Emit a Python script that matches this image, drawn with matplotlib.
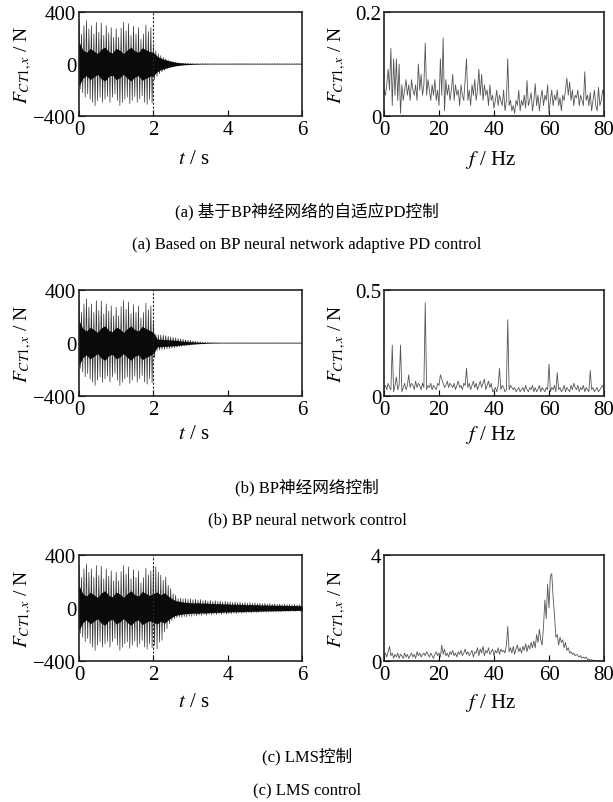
import numpy as np
import matplotlib
matplotlib.use('Agg')
import matplotlib.pyplot as plt

plt.rcParams['font.family'] = ['Liberation Serif', 'Noto Sans CJK SC']
plt.rcParams['mathtext.fontset'] = 'stix'

# ---- time domain: spike peaks at 15 per second, troughs in between ----
fs_spike = 15
# 0 - 2 s, uncontrolled part, same in all three cases
pre_up = [320, 230, 295, 333, 270, 295, 230, 320, 245, 315, 220, 295, 240, 280, 205,
          270, 205, 275, 320, 255, 310, 220, 290, 230, 280, 190, 230, 300, 250, 280]
pre_dn = [-190, -220, -255, -230, -270, -295, -320, -280, -255, -295, -270, -250, -295, -255, -230,
          -280, -320, -295, -270, -255, -305, -280, -250, -295, -270, -245, -295, -310, -270, -300]

# 2 - 6 s, after control is switched on
post_up_a = [140, 100, 78, 64, 51, 40, 30, 22, 16, 12, 8, 6, 5, 4, 3,
             3, 3, 2, 2, 2, 2, 2, 2, 2, 2, 2, 2, 2, 2, 2,
             2, 2, 2, 2, 2, 2, 2, 2, 2, 2, 2, 2, 2, 2, 2,
             2, 2, 2, 2, 2, 2, 2, 2, 2, 2, 2, 2, 2, 2, 2]
post_dn_a = [-120, -95, -75, -60, -48, -37, -28, -20, -15, -11, -8, -6, -5, -4, -3,
             -3, -3, -2, -2, -2, -2, -2, -2, -2, -2, -2, -2, -2, -2, -2,
             -2, -2, -2, -2, -2, -2, -2, -2, -2, -2, -2, -2, -2, -2, -2,
             -2, -2, -2, -2, -2, -2, -2, -2, -2, -2, -2, -2, -2, -2, -2]

post_up_b = [170, 65, 62, 60, 58, 55, 50, 46, 42, 38, 34, 30, 27, 24, 21,
             18, 15, 12, 10, 8, 6, 5, 4, 3, 3, 2, 2, 2, 1, 1,
             1, 1, 1, 1, 1, 1, 1, 1, 1, 1, 1, 1, 1, 1, 1,
             1, 1, 1, 1, 1, 1, 1, 1, 1, 1, 1, 1, 1, 1, 1]
post_dn_b = [-110, -55, -52, -50, -48, -45, -42, -38, -35, -32, -28, -25, -22, -20, -18,
             -15, -12, -10, -8, -6, -5, -4, -3, -3, -2, -2, -2, -1, -1, -1,
             -1, -1, -1, -1, -1, -1, -1, -1, -1, -1, -1, -1, -1, -1, -1,
             -1, -1, -1, -1, -1, -1, -1, -1, -1, -1, -1, -1, -1, -1, -1]

post_up_c = [300, 310, 272, 247, 209, 234, 171, 146, 108, 96, 70, 75, 68, 72, 65,
             70, 62, 66, 58, 64, 55, 60, 52, 57, 50, 55, 48, 52, 46, 50,
             45, 48, 42, 46, 40, 44, 38, 42, 36, 40, 35, 38, 33, 36, 32,
             34, 30, 33, 28, 32, 27, 30, 26, 29, 25, 28, 24, 27, 23, 25]
post_dn_c = [-282, -307, -257, -244, -181, -156, -118, -93, -80, -72, -68, -70, -64, -66, -60,
             -62, -56, -60, -53, -57, -50, -54, -48, -52, -46, -50, -44, -48, -42, -46,
             -42, -44, -40, -42, -38, -40, -36, -38, -34, -36, -33, -35, -31, -33, -30,
             -31, -29, -30, -27, -29, -26, -28, -25, -27, -24, -26, -23, -25, -22, -24]

# dense black core of the signal, every 0.1 s
core_pre = [170, 110, 90, 120, 100, 80, 115, 130, 95, 85,
            120, 105, 80, 110, 130, 100, 90, 125, 110, 95]
core_post_a = [90, 60, 45, 35, 26, 20, 14, 10, 7, 5,
               3.5, 2.5, 2, 1.5, 1.5, 1.2, 1.2, 1.2, 1.2, 1.2,
               1.2, 1.2, 1.2, 1.2, 1.2, 1.2, 1.2, 1.2, 1.2, 1.2,
               1.2, 1.2, 1.2, 1.2, 1.2, 1.2, 1.2, 1.2, 1.2, 1.2, 1.2]
core_post_b = [80, 30, 28, 26, 24, 22, 20, 17, 14, 11,
               9, 7, 5, 4, 3, 2, 1.5, 1.2, 1, 1,
               1, 1, 1, 1, 1, 1, 1, 1, 1, 1,
               1, 1, 1, 1, 1, 1, 1, 1, 1, 1, 1]
core_post_c = [110, 120, 100, 115, 90, 70, 55, 50, 45, 42,
               40, 38, 40, 36, 38, 34, 35, 32, 33, 30,
               31, 28, 29, 27, 28, 25, 26, 24, 25, 22,
               23, 21, 22, 20, 21, 19, 20, 18, 19, 17, 18]

# ---- spectra, 0 - 80 Hz every 0.5 Hz ----
spec_a = [0.05, 0.04, 0.06, 0.09, 0.05, 0.13, 0.02, 0.11, 0.04, 0.11,
          0.03, 0.10, 0.005, 0.06, 0.03, 0.05, 0.07, 0.04, 0.06, 0.03,
          0.07, 0.05, 0.04, 0.06, 0.03, 0.10, 0.05, 0.08, 0.04, 0.06,
          0.14, 0.04, 0.07, 0.05, 0.03, 0.06, 0.04, 0.07, 0.03, 0.05,
          0.02, 0.11, 0.04, 0.15, 0.01, 0.07, 0.04, 0.06, 0.03, 0.05,
          0.08, 0.03, 0.06, 0.04, 0.05, 0.02, 0.06, 0.04, 0.03, 0.07,
          0.11, 0.03, 0.05, 0.02, 0.06, 0.04, 0.07, 0.03, 0.05, 0.09,
          0.04, 0.08, 0.03, 0.06, 0.04, 0.05, 0.02, 0.06, 0.03, 0.04,
          0.015, 0.03, 0.05, 0.02, 0.04, 0.03, 0.02, 0.05, 0.01, 0.03,
          0.11, 0.02, 0.03, 0.01, 0.02, 0.005, 0.03, 0.02, 0.05, 0.01,
          0.03, 0.02, 0.04, 0.015, 0.068, 0.02, 0.03, 0.045, 0.01, 0.03,
          0.062, 0.02, 0.04, 0.01, 0.035, 0.05, 0.02, 0.04, 0.03, 0.06,
          0.005, 0.03, 0.05, 0.02, 0.04, 0.03, 0.05, 0.02, 0.035, 0.01,
          0.04, 0.03, 0.05, 0.073, 0.04, 0.065, 0.03, 0.05, 0.02, 0.04,
          0.035, 0.05, 0.02, 0.04, 0.03, 0.02, 0.085, 0.03, 0.04, 0.02,
          0.045, 0.01, 0.03, 0.05, 0.02, 0.01, 0.055, 0.02, 0.03, 0.05,
          0.04]
spec_b = [0.04, 0.05, 0.03, 0.06, 0.04, 0.03, 0.24, 0.02, 0.05, 0.09,
          0.03, 0.05, 0.24, 0.02, 0.04, 0.06, 0.03, 0.05, 0.10, 0.04,
          0.06, 0.05, 0.03, 0.07, 0.04, 0.06, 0.05, 0.03, 0.06, 0.04,
          0.44, 0.03, 0.05, 0.04, 0.06, 0.03, 0.05, 0.04, 0.03, 0.06,
          0.05, 0.10, 0.08, 0.06, 0.04, 0.05, 0.07, 0.04, 0.06, 0.05,
          0.04, 0.06, 0.03, 0.05, 0.07, 0.04, 0.05, 0.03, 0.06, 0.05,
          0.13, 0.04, 0.06, 0.03, 0.05, 0.07, 0.04, 0.06, 0.03, 0.05,
          0.07, 0.04, 0.06, 0.08, 0.03, 0.05, 0.07, 0.04, 0.06, 0.02,
          0.03, 0.04, 0.02, 0.05, 0.13, 0.03, 0.05, 0.04, 0.02, 0.03,
          0.36, 0.03, 0.05, 0.04, 0.03, 0.04, 0.02, 0.03, 0.04, 0.02,
          0.03, 0.04, 0.02, 0.05, 0.03, 0.02, 0.04, 0.03, 0.05, 0.02,
          0.04, 0.02, 0.03, 0.05, 0.02, 0.04, 0.03, 0.02, 0.04, 0.03,
          0.15, 0.02, 0.04, 0.03, 0.05, 0.02, 0.11, 0.03, 0.04, 0.02,
          0.03, 0.05, 0.02, 0.04, 0.03, 0.02, 0.05, 0.03, 0.06, 0.04,
          0.03, 0.05, 0.02, 0.04, 0.03, 0.05, 0.02, 0.04, 0.03, 0.02,
          0.12, 0.03, 0.04, 0.02, 0.03, 0.04, 0.02, 0.03, 0.04, 0.05,
          0.03]
spec_c = [0.2, 0.3, 0.15, 0.35, 0.55, 0.2, 0.3, 0.1, 0.25, 0.15,
          0.3, 0.1, 0.25, 0.2, 0.1, 0.3, 0.15, 0.25, 0.1, 0.2,
          0.3, 0.15, 0.25, 0.1, 0.35, 0.2, 0.3, 0.15, 0.25, 0.3,
          0.2, 0.35, 0.25, 0.15, 0.3, 0.2, 0.1, 0.25, 0.35, 0.2,
          0.3, 0.15, 0.6, 0.25, 0.45, 0.2, 0.3, 0.15, 0.35, 0.25,
          0.4, 0.2, 0.3, 0.15, 0.35, 0.25, 0.4, 0.2, 0.3, 0.45,
          0.25, 0.35, 0.2, 0.3, 0.4, 0.15, 0.35, 0.3, 0.5, 0.2,
          0.45, 0.3, 0.55, 0.2, 0.4, 0.3, 0.5, 0.25, 0.35, 0.45,
          0.2, 0.4, 0.3, 0.5, 0.25, 0.45, 0.35, 0.4, 0.3, 0.6,
          1.3, 0.35, 0.5, 0.3, 0.55, 0.25, 0.45, 0.6, 0.35, 0.5,
          0.3, 0.55, 0.4, 0.65, 0.35, 0.6, 0.45, 0.7, 0.5, 0.75,
          0.5, 1.0, 0.7, 1.2, 0.8, 0.6, 1.3, 2.3, 1.6, 2.9,
          2.0, 3.2, 3.3, 2.4, 1.7, 0.9, 1.0, 0.6, 0.9, 0.7,
          0.8, 0.5, 0.7, 0.4, 0.5, 0.3, 0.35, 0.25, 0.3, 0.2,
          0.25, 0.2, 0.15, 0.2, 0.1, 0.15, 0.1, 0.15, 0.05, 0.08,
          0.03, 0.05, 0.02, 0.03, 0.01, 0.02, 0.01, 0.02, 0.01, 0.01,
          0.01]

spec_ylim = [0.2, 0.5, 4]
spec_yticklabels = [['0', '0.2'], ['0', '0.5'], ['0', '4']]
time_ticks = [0, 2, 4, 6]
freq_ticks = [0, 20, 40, 60, 80]
force_ticks = [-400, 0, 400]

captions_cn = ['(a) 基于BP神经网络的自适应PD控制', '(b) BP神经网络控制', '(c) LMS控制']
captions_en = ['(a) Based on BP neural network adaptive PD control',
               '(b) BP neural network control', '(c) LMS control']

W, H = 613, 803
fig = plt.figure(figsize=(W / 100, H / 100), dpi=100)


def fx(px):
    return px / W


def fy(py):
    return 1 - py / H


rows = [
    (post_up_a, post_dn_a, core_post_a, spec_a),
    (post_up_b, post_dn_b, core_post_b, spec_b),
    (post_up_c, post_dn_c, core_post_c, spec_c),
]
# pixel top/bottom of each row of axes
row_px = [(13, 117), (291, 397), (556, 662)]
xlab_px = [160, 435, 703]
cap_px = [(211, 245), (488, 520), (757, 790)]

tick_fs = 15
ylab = r'$F_{CT1,x}$ / N'

for k, (pu, pd, pc, spec) in enumerate(rows):
    top, bot = row_px[k]
    up = np.array(pre_up + pu, dtype=float)
    dn = np.array(pre_dn + pd, dtype=float)
    core = np.array(core_pre + pc, dtype=float)

    t_up = np.arange(len(up)) / fs_spike
    t_dn = t_up + 0.5 / fs_spike
    tt = np.empty(2 * len(up))
    yy = np.empty(2 * len(up))
    tt[0::2], tt[1::2] = t_up, t_dn
    yy[0::2], yy[1::2] = up, dn
    t_core = np.arange(len(core)) * 0.1

    ax = fig.add_axes([fx(79), fy(bot), fx(223), (bot - top) / H])
    ax.plot(tt, yy, color='#303030', lw=0.5)
    ax.fill_between(t_core, -core, core, color='#0a0a0a', lw=0, zorder=3)
    ax.axvline(2, color='#222222', lw=0.8, ls=(0, (2, 1.5)), zorder=4)
    ax.set_xlim(0, 6)
    ax.set_ylim(-400, 400)
    ax.set_xticks(time_ticks)
    ax.set_yticks(force_ticks)

    ax2 = fig.add_axes([fx(384), fy(bot), fx(220), (bot - top) / H])
    f = np.arange(len(spec)) * 0.5
    ax2.plot(f, spec, color='#555555', lw=0.6)
    ax2.set_xlim(0, 80)
    ax2.set_ylim(0, spec_ylim[k])
    ax2.set_xticks(freq_ticks)
    ax2.set_yticks([0, spec_ylim[k]])
    ax2.set_yticklabels(spec_yticklabels[k])

    for a in (ax, ax2):
        for s in a.spines.values():
            s.set_linewidth(1.2)
            s.set_color('#222222')
        a.tick_params(direction='in', length=4, width=0.8, labelsize=tick_fs,
                      top=False, right=False, pad=3)
        a.tick_params(axis='y', pad=2)

    cy = (top + bot) / 2
    fig.text(fx(23), fy(cy), ylab, rotation=90, ha='center', va='center', fontsize=14)
    fig.text(fx(337), fy(cy), ylab, rotation=90, ha='center', va='center', fontsize=14)
    fig.text(fx(194), fy(xlab_px[k]), r'$t$ / s', ha='center', va='center', fontsize=15)
    fig.text(fx(490), fy(xlab_px[k]), r'$f$ / Hz', ha='center', va='center', fontsize=15)

    fig.text(fx(307), fy(cap_px[k][0]), captions_cn[k], ha='center', va='center', fontsize=12)
    fig.text(fx(307), fy(cap_px[k][1]), captions_en[k], ha='center', va='center', fontsize=12)

fig.savefig('out.png', dpi=100)
